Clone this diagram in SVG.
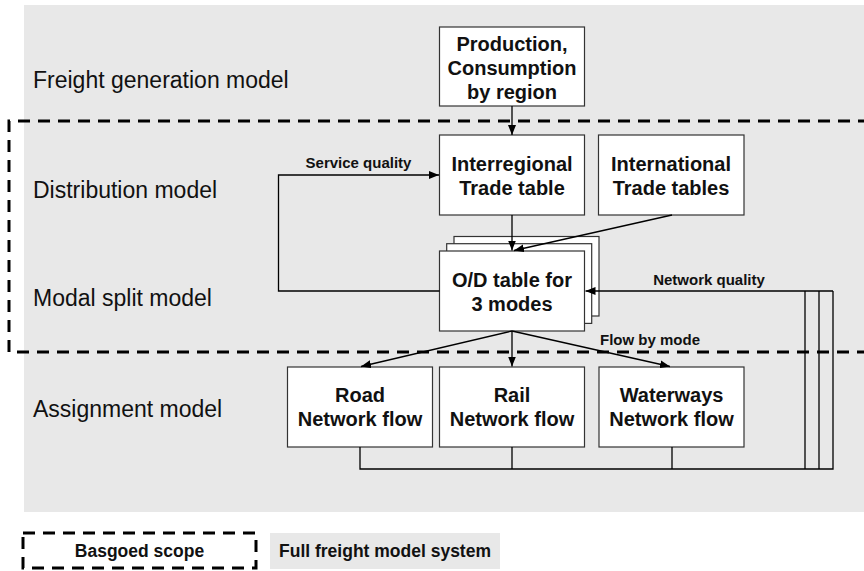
<svg xmlns="http://www.w3.org/2000/svg" width="864" height="571" viewBox="0 0 864 571">
<defs>
<style>
.box{fill:#fff;stroke:#333;stroke-width:1.2}
.bt{font-family:"Liberation Sans",Arial,sans-serif;font-weight:bold;font-size:20px;fill:#111;text-anchor:middle}
.lbl{font-family:"Liberation Sans",Arial,sans-serif;font-weight:bold;font-size:15px;fill:#111;text-anchor:middle}
.side{font-family:"Liberation Sans",Arial,sans-serif;font-size:23px;fill:#111}
.leg{font-family:"Liberation Sans",Arial,sans-serif;font-weight:bold;font-size:17.5px;fill:#111;text-anchor:middle}
.con{fill:none;stroke:#000;stroke-width:1.3}
.dash{fill:none;stroke:#000;stroke-width:3;stroke-dasharray:12 8}
</style>
<marker id="ah" markerWidth="10" markerHeight="8" refX="10" refY="4" orient="auto" markerUnits="userSpaceOnUse">
<path d="M0,0 L10,4 L0,8 z" fill="#000"/>
</marker>
</defs>
<rect x="0" y="0" width="864" height="571" fill="#fff"/>
<rect x="24" y="5" width="840" height="507" fill="#e8e8e8"/>
<g id="side-labels">
<text class="side" x="33" y="88">Freight generation model</text>
<text class="side" x="33" y="198">Distribution model</text>
<text class="side" x="33" y="306">Modal split model</text>
<text class="side" x="33" y="417">Assignment model</text>
</g>
<path id="scope" class="dash" d="M870,121 H9 V352 H870"/>
<g id="production">
<rect class="box" x="439.5" y="27" width="145" height="79"/>
<text class="bt" x="512" y="51">Production,</text>
<text class="bt" x="512" y="75">Consumption</text>
<text class="bt" x="512" y="99">by region</text>
</g>
<g id="interregional">
<rect class="box" x="439.5" y="135" width="145" height="80"/>
<text class="bt" x="512" y="171">Interregional</text>
<text class="bt" x="512" y="195">Trade table</text>
</g>
<g id="international">
<rect class="box" x="598.5" y="135" width="145.5" height="80"/>
<text class="bt" x="671" y="171">International</text>
<text class="bt" x="671" y="195">Trade tables</text>
</g>
<g id="od">
<rect class="box" x="454" y="236.5" width="145" height="79.5"/>
<rect class="box" x="446.7" y="243.7" width="145" height="79.7"/>
<rect class="box" x="439.5" y="251" width="145" height="80"/>
<text class="bt" x="512" y="287">O/D table for</text>
<text class="bt" x="512" y="311">3 modes</text>
</g>
<g id="road">
<rect class="box" x="287.5" y="367" width="145" height="80"/>
<text class="bt" x="360" y="402">Road</text>
<text class="bt" x="360" y="426">Network flow</text>
</g>
<g id="rail">
<rect class="box" x="439.5" y="367" width="145" height="80"/>
<text class="bt" x="512" y="402">Rail</text>
<text class="bt" x="512" y="426">Network flow</text>
</g>
<g id="waterways">
<rect class="box" x="599" y="367" width="145" height="80"/>
<text class="bt" x="671.5" y="402">Waterways</text>
<text class="bt" x="671.5" y="426">Network flow</text>
</g>
<g id="connectors">
<line class="con" x1="512" y1="106" x2="512" y2="135" marker-end="url(#ah)"/>
<line class="con" x1="512" y1="215" x2="512" y2="250.5" marker-end="url(#ah)"/>
<line class="con" x1="672" y1="215" x2="514" y2="250.5" marker-end="url(#ah)"/>
<path class="con" d="M439.5,291 H278.5 V175 H439" marker-end="url(#ah)"/>
<path class="con" d="M833,291 H585.5" marker-end="url(#ah)"/>
<path class="con" d="M360,447 V469 H833 V291"/>
<path class="con" d="M512,447 V469"/>
<path class="con" d="M672,447 V469"/>
<path class="con" d="M805,291 V469"/>
<path class="con" d="M819,291 V469"/>
<line class="con" x1="512" y1="331" x2="361" y2="366.5" marker-end="url(#ah)"/>
<line class="con" x1="512" y1="331" x2="512" y2="366.5" marker-end="url(#ah)"/>
<line class="con" x1="512" y1="331" x2="670" y2="366.5" marker-end="url(#ah)"/>
</g>
<g id="connector-labels">
<text class="lbl" x="358.5" y="168">Service quality</text>
<text class="lbl" x="709" y="284.5">Network quality</text>
<text class="lbl" x="650" y="345">Flow by mode</text>
</g>
<g id="legend">
<rect class="dash" x="23" y="533" width="233" height="35"/>
<text class="leg" x="139.5" y="557">Basgoed scope</text>
<rect x="270" y="533" width="230" height="36" fill="#e8e8e8"/>
<text class="leg" x="385" y="557">Full freight model system</text>
</g>
</svg>
